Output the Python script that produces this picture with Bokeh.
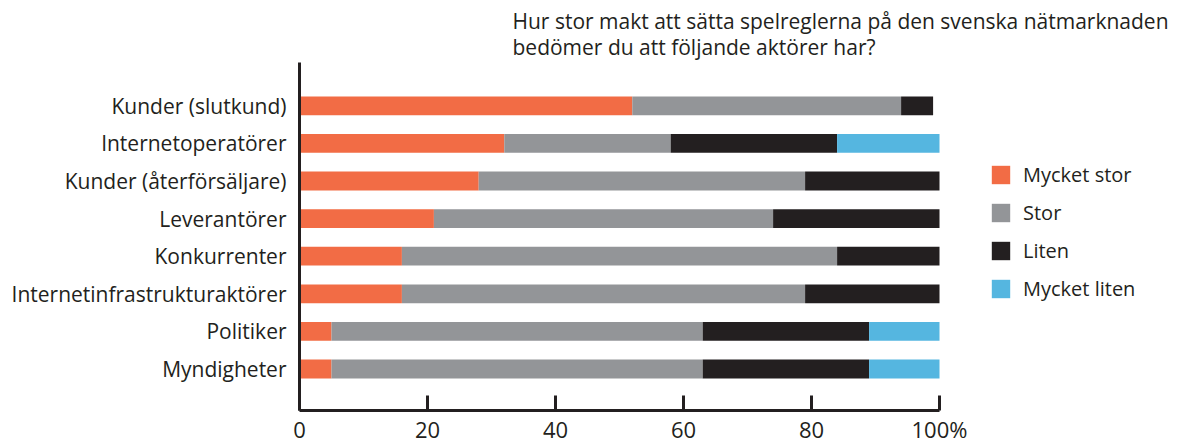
from bokeh.plotting import figure
from bokeh.models import ColumnDataSource, FixedTicker, Legend, Label, Range1d
from bokeh.embed import file_html
from bokeh.resources import INLINE

categories = ["Kunder (slutkund)", "Internetoperatörer", "Kunder (återförsäljare)",
              "Leverantörer", "Konkurrenter", "Internetinfrastrukturaktörer",
              "Politiker", "Myndigheter"]
mycket_stor = [52, 32, 28, 21, 16, 16, 5, 5]
stor = [42, 26, 51, 53, 68, 63, 58, 58]
liten = [5, 26, 21, 26, 16, 21, 26, 26]
mycket_liten = [0, 16, 0, 0, 0, 0, 11, 11]
series_labels = ["Mycket stor", "Stor", "Liten", "Mycket liten"]
x_ticks = [0, 20, 40, 60, 80, 100]
question_line1 = "Hur stor makt att sätta spelreglerna på den svenska nätmarknaden"
question_line2 = "bedömer du att följande aktörer har?"

COLORS = ["#f26c45", "#939598", "#231f20", "#55b6e0"]
FONT = "Open Sans"
TXT = "#231f20"

W, H = 1178, 439
# layout (pixels): plot area x 299..939 for 0..100, rows 37.6 px apart
X0_PX, X100_PX = 299, 939
PX_PER_X = (X100_PX - X0_PX) / 100.0
ROW_PX = 37.6
ROW0_PX = 368.5          # centre of the bottom row, from top
AXIS_BOTTOM_PX, AXIS_TOP_PX = 410, 62

n = len(categories)
ypos = [n - 1 - i for i in range(n)]  # first category at top
keys = ["ms", "s", "l", "ml"]
source = ColumnDataSource(dict(y=ypos, cat=categories, ms=mycket_stor, s=stor,
                               l=liten, ml=mycket_liten))

x_start = -X0_PX / PX_PER_X
x_end = 100 + (W - X100_PX) / PX_PER_X
y_start = -(H - ROW0_PX) / ROW_PX
y_end = ROW0_PX / ROW_PX
y_axis_low = -(AXIS_BOTTOM_PX - ROW0_PX) / ROW_PX
y_axis_high = (ROW0_PX - AXIS_TOP_PX) / ROW_PX

p = figure(width=W, height=H, title=None,
           x_range=Range1d(x_start, x_end), y_range=Range1d(y_start, y_end),
           output_backend="svg", toolbar_location=None, min_border=0)

renderers = p.hbar_stack(keys, y="y", height=0.5, color=COLORS, source=source, line_width=0)

p.outline_line_color = None
p.xgrid.visible = False
p.ygrid.visible = False

xa = p.xaxis[0]
xa.fixed_location = y_axis_low
xa.bounds = (0, 100)
xa.ticker = FixedTicker(ticks=x_ticks)
xa.major_label_overrides = {100: "100%"}
xa.axis_line_width = 3
xa.axis_line_color = TXT
xa.major_tick_in = 15
xa.major_tick_out = 0
xa.major_tick_line_width = 3
xa.major_tick_line_color = TXT
xa.minor_tick_line_color = None
xa.major_label_text_font = FONT
xa.major_label_text_font_size = "22px"
xa.major_label_text_color = TXT
xa.major_label_standoff = 3

ya = p.yaxis[0]
ya.fixed_location = 0
ya.bounds = (y_axis_low, y_axis_high)
ya.ticker = FixedTicker(ticks=ypos)
ya.major_label_overrides = {y: c for y, c in zip(ypos, categories)}
ya.axis_line_width = 3
ya.axis_line_color = TXT
ya.major_tick_line_color = None
ya.minor_tick_line_color = None
ya.major_label_text_font = FONT
ya.major_label_text_font_size = "21px"
ya.major_label_text_color = TXT
ya.major_label_standoff = 7

legend = Legend(items=[(lab, [r]) for lab, r in zip(series_labels, renderers)],
                location=(989, H - 302), orientation="vertical",
                glyph_width=23, glyph_height=23, label_height=23, spacing=11,
                label_standoff=11, padding=0, margin=0,
                border_line_color=None, background_fill_alpha=0,
                label_text_font=FONT, label_text_font_size="20px", label_text_color=TXT)
p.add_layout(legend)

for line, baseline_px in [(question_line1, 20), (question_line2, 46)]:
    p.add_layout(Label(x=512, y=H - baseline_px, x_units="screen", y_units="screen",
                       text=line, text_font=FONT, text_font_size="21px",
                       text_color=TXT, text_baseline="alphabetic", text_align="left"))

open("out.html", "w").write(file_html(p, INLINE))
